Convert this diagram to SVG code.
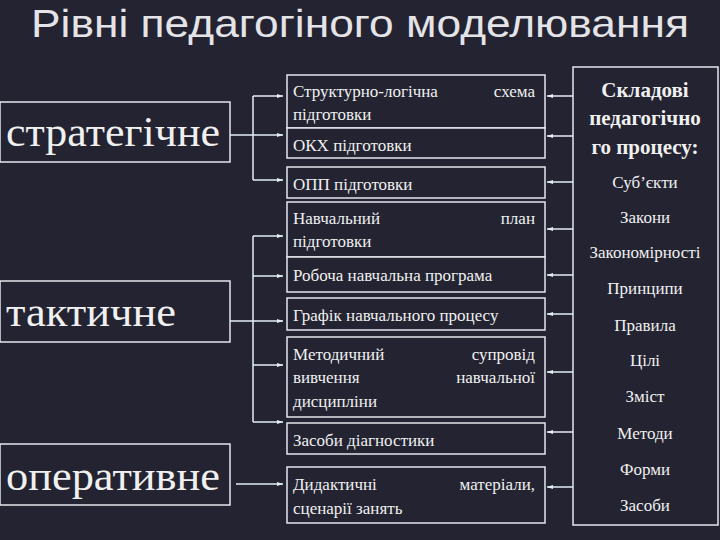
<svg xmlns="http://www.w3.org/2000/svg" width="720" height="540" viewBox="0 0 720 540">
<style>
.bx{fill:#232331;stroke:#e6e6ee;stroke-width:1.5}
.s{font-family:'Liberation Serif','DejaVu Serif','Times New Roman',Times,serif}
.big{font-size:42px;fill:#f0f0f0}
.m{font-size:17px;fill:#f0f0f0}
.r{font-size:17px;fill:#f0f0f0;text-anchor:middle}
.rb{font-size:21px;font-weight:bold;fill:#f0f0f0;text-anchor:middle}
.c{stroke:#e6eef6;stroke-width:1.5;fill:none}
.e{text-anchor:end}
</style>
<defs><marker id="a" markerWidth="6" markerHeight="6" refX="6" refY="3" orient="auto" markerUnits="userSpaceOnUse"><path d="M0,1 L6,3 L0,5 z" fill="#e6eef6"/></marker></defs>
<rect width="720" height="540" fill="#232331"/>
<text x="31" y="37" font-family="Liberation Sans, Arial, sans-serif" font-size="39" fill="#e4e4e8" textLength="658" lengthAdjust="spacingAndGlyphs">Рівні педагогіного моделювання</text>
<g class="s">
<g id="n-strat"><rect class="bx" x="0" y="102" width="230" height="60"/><text class="s big" x="6" y="146" textLength="214" lengthAdjust="spacingAndGlyphs">стратегічне</text></g>
<g id="n-takt"><rect class="bx" x="0" y="281" width="230" height="61"/><text class="s big" x="6" y="326" textLength="170" lengthAdjust="spacingAndGlyphs">тактичне</text></g>
<g id="n-oper"><rect class="bx" x="0" y="444" width="230" height="61"/><text class="s big" x="6" y="490" textLength="214" lengthAdjust="spacingAndGlyphs">оперативне</text></g>
<g id="m1"><rect class="bx" x="287" y="75" width="258" height="53"/><text class="s m" x="293" y="97">Структурно-логічна</text><text class="s m e" x="535" y="97">схема</text><text class="s m" x="293" y="120">підготовки</text></g>
<g id="m2"><rect class="bx" x="287" y="128" width="258" height="30"/><text class="s m" x="293" y="151">ОКХ підготовки</text></g>
<g id="m3"><rect class="bx" x="287" y="167" width="258" height="31"/><text class="s m" x="293" y="190">ОПП підготовки</text></g>
<g id="m4"><rect class="bx" x="287" y="202" width="258" height="55"/><text class="s m" x="293" y="224">Навчальний</text><text class="s m e" x="535" y="224">план</text><text class="s m" x="293" y="247">підготовки</text></g>
<g id="m5"><rect class="bx" x="287" y="257" width="258" height="35"/><text class="s m" x="293" y="281">Робоча навчальна програма</text></g>
<g id="m6"><rect class="bx" x="287" y="298" width="258" height="32"/><text class="s m" x="293" y="321">Графік навчального процесу</text></g>
<g id="m7"><rect class="bx" x="287" y="337" width="258" height="80"/><text class="s m" x="293" y="360">Методичний</text><text class="s m e" x="535" y="360">супровід</text><text class="s m" x="293" y="383">вивчення</text><text class="s m e" x="535" y="383">навчальної</text><text class="s m" x="293" y="407">дисципліни</text></g>
<g id="m8"><rect class="bx" x="287" y="423" width="258" height="31"/><text class="s m" x="293" y="446">Засоби діагностики</text></g>
<g id="m9"><rect class="bx" x="287" y="467" width="258" height="56"/><text class="s m" x="293" y="490">Дидактичні</text><text class="s m e" x="535" y="490">матеріали,</text><text class="s m" x="293" y="514">сценарії занять</text></g>
<g id="n-right"><rect class="bx" x="573" y="67" width="145" height="458"/>
<text class="s rb" x="645" y="97">Складові</text><text class="s rb" x="645" y="125">педагогічно</text><text class="s rb" x="645" y="154">го процесу:</text>
<text class="s r" x="645" y="188">Суб’єкти</text><text class="s r" x="645" y="223">Закони</text><text class="s r" x="645" y="258">Закономірності</text><text class="s r" x="645" y="294">Принципи</text><text class="s r" x="645" y="331">Правила</text><text class="s r" x="645" y="366">Цілі</text><text class="s r" x="645" y="402">Зміст</text><text class="s r" x="645" y="439">Методи</text><text class="s r" x="645" y="475">Форми</text><text class="s r" x="645" y="511">Засоби</text></g>
</g>
<g id="connectors">
<path class="c" d="M230,135 H253 M253,96 V180"/>
<path class="c" d="M253,96 H283" marker-end="url(#a)"/><path class="c" d="M253,135 H283" marker-end="url(#a)"/><path class="c" d="M253,180 H283" marker-end="url(#a)"/>
<path class="c" d="M230,321 H253 M253,236 V422"/>
<path class="c" d="M253,236 H283" marker-end="url(#a)"/><path class="c" d="M253,276 H283" marker-end="url(#a)"/><path class="c" d="M253,321 H283" marker-end="url(#a)"/><path class="c" d="M253,365 H283" marker-end="url(#a)"/><path class="c" d="M253,422 H283" marker-end="url(#a)"/>
<path class="c" d="M236,484 H283" marker-end="url(#a)"/>
<path class="c" d="M573,96 H547" marker-end="url(#a)"/><path class="c" d="M573,136 H547" marker-end="url(#a)"/><path class="c" d="M573,182 H547" marker-end="url(#a)"/><path class="c" d="M573,229 H547" marker-end="url(#a)"/><path class="c" d="M573,275 H547" marker-end="url(#a)"/><path class="c" d="M573,314 H547" marker-end="url(#a)"/><path class="c" d="M573,372 H547" marker-end="url(#a)"/><path class="c" d="M573,432 H547" marker-end="url(#a)"/><path class="c" d="M573,487 H547" marker-end="url(#a)"/>
</g>
</svg>
